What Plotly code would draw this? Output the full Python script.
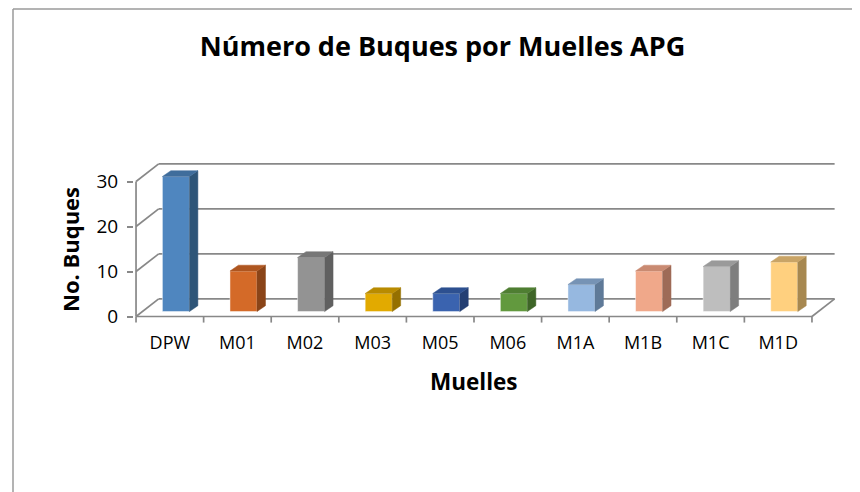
import plotly.graph_objects as go

# ---- data ----
categories = ["DPW", "M01", "M02", "M03", "M05", "M06", "M1A", "M1B", "M1C", "M1D"]
values = [30, 9, 12, 4, 4, 4, 6, 9, 10, 11]
y_ticks = [0, 10, 20, 30]

front_colors = ["#4F86BF", "#D46A28", "#939393", "#E2AA00", "#3A63AF",
                "#62993E", "#96B8E0", "#F0A88A", "#BEBEBE", "#FFD07F"]
side_colors = ["#2E5578", "#8A4418", "#606060", "#957000", "#243F73",
               "#3E6527", "#5F7A98", "#9E6B57", "#7E7E7E", "#A78850"]
top_colors = ["#3F6D9C", "#AE5620", "#777777", "#B98B00", "#2D5090",
              "#4F7E32", "#7693B5", "#C98A72", "#9A9A9A", "#C9A466"]

# ---- pseudo-3D geometry (in axis units) ----
WALL_DX, WALL_DY = 0.335, 3.9      # depth of the back wall
BAR_SHIFT_X, BAR_BASE = 0.09, 1.1  # bar position inside the depth
BAR_W = 0.40
BAR_DX, BAR_DY = 0.125, 1.3        # bar depth
GRID = "#888888"

n = len(categories)
x_left, x_right = -0.5, n - 0.5

fig = go.Figure()
grid_shapes = []

def seg(xs, ys, color=GRID, width=1.7):
    grid_shapes.append(dict(type="line", xref="x", yref="y", layer="below",
                            x0=xs[0], x1=xs[1], y0=ys[0], y1=ys[1],
                            line=dict(color=color, width=width)))

# back wall gridlines + side wall diagonals
for v in y_ticks:
    seg([x_left + WALL_DX, x_right + WALL_DX], [v + WALL_DY, v + WALL_DY])
    seg([x_left, x_left + WALL_DX], [v, v + WALL_DY])
# floor front edge and right edge
seg([x_left, x_right], [0, 0])
seg([x_right, x_right + WALL_DX], [0, WALL_DY])
# front vertical axis line
seg([x_left, x_left], [0, y_ticks[-1]])
# category boundary ticks
for k in range(n + 1):
    b = x_left + k
    seg([b, b], [0, -1.35])

# bars
for i, (v, fc, sc, tc) in enumerate(zip(values, front_colors, side_colors, top_colors)):
    cx = i + BAR_SHIFT_X
    x0, x1 = cx - BAR_W / 2, cx + BAR_W / 2
    b, t = BAR_BASE, BAR_BASE + v
    # front face
    fig.add_trace(go.Bar(
        x=[cx], y=[v], base=[b], width=BAR_W,
        marker=dict(color=fc, line=dict(color="rgba(255,255,255,0.6)", width=0.8)),
        name=categories[i], showlegend=False))
    # side face
    fig.add_trace(go.Scatter(
        x=[x1, x1 + BAR_DX, x1 + BAR_DX, x1, x1],
        y=[b, b + BAR_DY, t + BAR_DY, t, b],
        mode="lines", fill="toself", fillcolor=sc,
        line=dict(color=sc, width=0.5), hoverinfo="skip", showlegend=False))
    # top face
    fig.add_trace(go.Scatter(
        x=[x0, x0 + BAR_DX, x1 + BAR_DX, x1, x0],
        y=[t, t + BAR_DY, t + BAR_DY, t, t],
        mode="lines", fill="toself", fillcolor=tc,
        line=dict(color=tc, width=0.5), hoverinfo="skip", showlegend=False))

# page has an 8px body margin: figure occupies page x 8..860, y 8..492
OFF = 8
W, H = 852, 484
L, R, T, B = 126, 21, 151, 162
PW, PH = W - L - R, H - T - B

def xp(page_x):
    return (page_x - OFF - L) / PW

def yp(page_y):
    return (H - B - (page_y - OFF)) / PH

border = [
    dict(type="line", xref="paper", yref="paper",
         x0=xp(13), x1=xp(13), y0=yp(9), y1=yp(500),
         line=dict(color="#9A9A9A", width=1.5)),
    dict(type="line", xref="paper", yref="paper",
         x0=xp(13), x1=xp(870), y0=yp(9), y1=yp(9),
         line=dict(color="#9A9A9A", width=1.5)),
]

fig.update_layout(
    width=W, height=H,
    margin=dict(l=L, r=R, t=T, b=B),
    paper_bgcolor="white", plot_bgcolor="white",
    font=dict(family="Open Sans", color="#000000"),
    title=dict(text="<b>Número de Buques por Muelles APG</b>",
               font=dict(size=27, family="Open Sans", color="#000000"),
               x=xp(442.5), xref="paper", xanchor="center",
               y=1 - (47 - OFF) / H, yref="container", yanchor="middle"),
    xaxis=dict(range=[-0.53, 9.9], tickmode="array",
               tickvals=list(range(n)), ticktext=categories,
               showgrid=False, zeroline=False, showline=False, ticks="",
               tickfont=dict(size=18, family="Open Sans", color="#000000")),
    yaxis=dict(range=[-3, 35], tickmode="array", tickvals=y_ticks,
               ticktext=[str(v) for v in y_ticks],
               showgrid=False, zeroline=False, showline=False,
               ticks="outside", ticklen=6, tickcolor=GRID, tickwidth=1.5,
               ticklabelstandoff=5,
               tickfont=dict(size=19, family="Open Sans", color="#000000")),
    barmode="overlay",
    annotations=[
        dict(text="<b>No. Buques</b>", textangle=-90, showarrow=False,
             xref="paper", yref="paper", x=xp(70), y=yp(250),
             xanchor="center", yanchor="middle",
             font=dict(size=22, family="Open Sans", color="#000000")),
        dict(text="<b>Muelles</b>", showarrow=False,
             xref="paper", yref="paper", x=xp(473.5), y=yp(381),
             xanchor="center", yanchor="middle",
             font=dict(size=22.5, family="Open Sans", color="#000000")),
    ],
    shapes=grid_shapes + border,
)

fig.write_html("out.html")
